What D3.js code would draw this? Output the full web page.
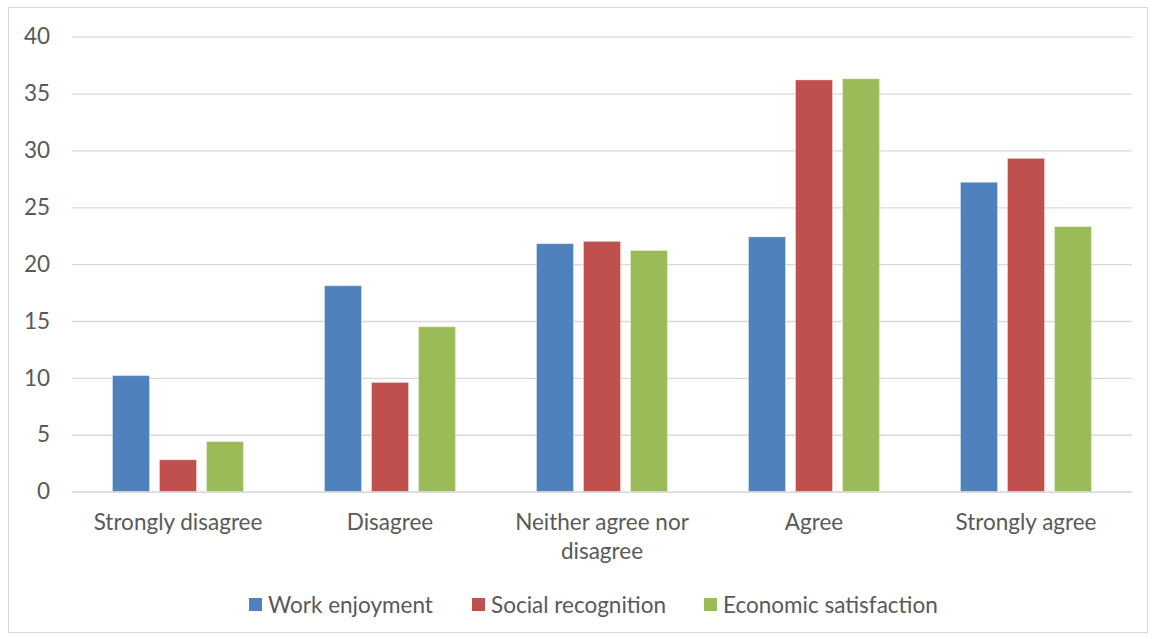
<!DOCTYPE html>
<html><head><meta charset="utf-8">
<script src="https://cdn.jsdelivr.net/npm/d3@7"></script>
<style>body{margin:0;background:#fff;} text{font-family:Lato,"Open Sans",sans-serif;fill:#595959;}</style>
</head><body><svg id="c" width="1153" height="639"></svg>
<script>
const categories = ["Strongly disagree","Disagree","Neither agree nor disagree","Agree","Strongly agree"];
const seriesNames = ["Work enjoyment","Social recognition","Economic satisfaction"];
const workEnjoyment = [10.2, 18.1, 21.8, 22.4, 27.2];
const socialRecognition = [2.8, 9.6, 22.0, 36.2, 29.3];
const economicSatisfaction = [4.4, 14.5, 21.2, 36.3, 23.3];
const yTicks = [0,5,10,15,20,25,30,35,40];
const colors = ["#4F81BD","#C0504D","#9BBB59"];
const seriesValues = [workEnjoyment, socialRecognition, economicSatisfaction];

const FS = 22.5;
const svg = d3.select("#c");
svg.append("rect").attr("x",8.5).attr("y",7.5).attr("width",1139).attr("height",625)
  .attr("fill","#fff").attr("stroke","#d9d9d9").attr("stroke-width",1);

const pLeft=72, pRight=1132, pTop=36.7, pBottom=491.6;
const y = d3.scaleLinear().domain([0,40]).range([pBottom,pTop]);
const x0 = d3.scaleBand().domain(categories).range([pLeft,pRight]).padding(0);
const x1 = d3.scaleBand().domain(seriesNames).range([0,x0.bandwidth()]).paddingInner(0.2128).paddingOuter(0.8617);

// grid
const yAxis = d3.axisLeft(y).tickValues(yTicks).tickSize(-(pRight-pLeft)).tickPadding(22);
const gy = svg.append("g").attr("transform",`translate(${pLeft},0)`).call(yAxis);
gy.select(".domain").remove();
gy.selectAll(".tick line").attr("stroke","#d9d9d9").attr("stroke-width",1.3);
gy.selectAll(".tick text").attr("font-size",FS).style("fill","#595959").attr("font-family","Lato");

// bars
const rows = categories.map((c,i)=>({cat:c, vals: seriesNames.map((s,j)=>({s, v: seriesValues[j][i], j}))}));
const g = svg.append("g");
g.selectAll("g").data(rows).join("g")
  .attr("transform",d=>`translate(${x0(d.cat)},0)`)
  .selectAll("rect").data(d=>d.vals).join("rect")
  .attr("x",d=>x1(d.s)).attr("width",x1.bandwidth())
  .attr("y",d=>y(d.v)).attr("height",d=>y(0)-y(d.v))
  .attr("fill",d=>colors[d.j]).attr("stroke","rgba(255,255,255,0.35)").attr("stroke-width",1);

// x axis
const xAxis = d3.axisBottom(x0).tickSize(0).tickPadding(0);
const gx = svg.append("g").attr("transform",`translate(0,${pBottom})`).call(xAxis);
gx.select(".domain").attr("stroke","#d9d9d9").attr("stroke-width",1.3);
gx.selectAll(".tick text").remove();
const wrap = {"Neither agree nor disagree":["Neither agree nor","disagree"]};
gx.selectAll(".tick").append("text")
  .attr("text-anchor","middle").attr("font-size",FS).style("fill","#595959")
  .each(function(d){
    const lines = wrap[d] || [d];
    const t = d3.select(this);
    lines.forEach((l,i)=>t.append("tspan").attr("x",0).attr("y",38.5+i*29).text(l));
  });

// legend
const legendX = [249, 472, 704];
const lg = svg.append("g");
seriesNames.forEach((s,i)=>{
  lg.append("rect").attr("x",legendX[i]).attr("y",598).attr("width",13).attr("height",13).attr("fill",colors[i]);
  lg.append("text").attr("x",legendX[i]+19).attr("y",613).attr("font-size",FS).text(s);
});
</script></body></html>
